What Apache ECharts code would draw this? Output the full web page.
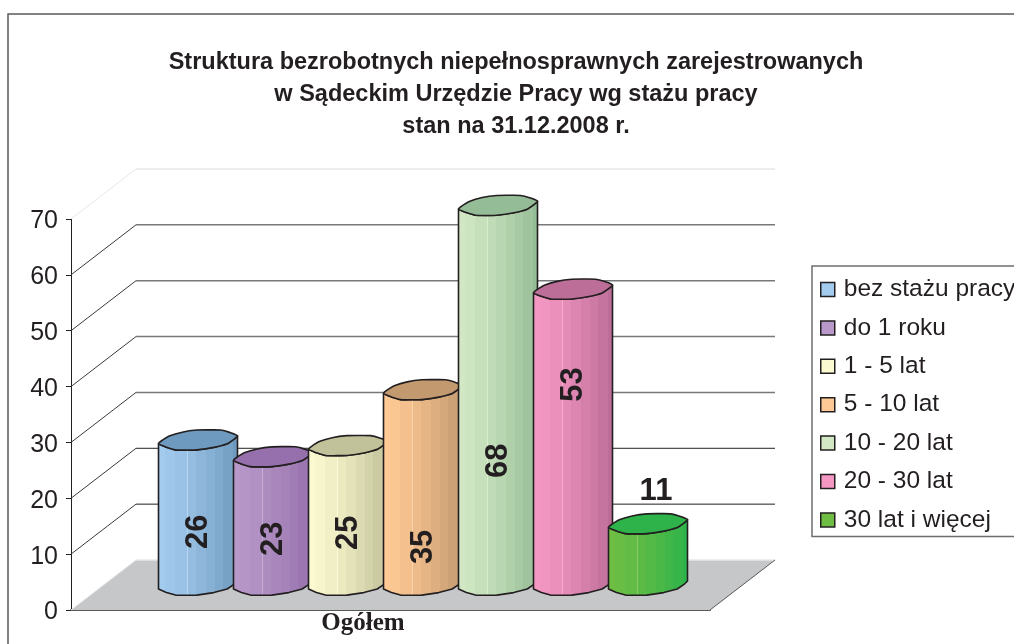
<!DOCTYPE html>
<html><head><meta charset="utf-8">
<style>html,body{margin:0;padding:0;background:#fff}#c{width:1014px;height:644px}</style>
<script src="https://cdn.jsdelivr.net/npm/echarts@6/dist/echarts.min.js"></script></head>
<body><div id="c"></div>
<script>
const titleLines = ['Struktura bezrobotnych niepełnosprawnych zarejestrowanych','w Sądeckim Urzędzie Pracy wg stażu pracy','stan na 31.12.2008 r.'];
const categories = ['Ogółem'];
const seriesNames = ['bez stażu pracy','do 1 roku','1 - 5 lat','5 - 10 lat','10 - 20 lat','20 - 30 lat','30 lat i więcej'];
const seriesValues = [26,23,25,35,68,53,11];
const yTicks = [0,10,20,30,40,50,60,70];

// styles and placement, kept apart from the data
const lightColors = ['#a3cbee','#b798c8','#fbf9cf','#fec995','#d2e8c4','#f497c3','#6fbe44'];
const darkColors  = ['#6f9abf','#9670ac','#c2c29a','#c39a70','#94bc96','#bc6e98','#2db34a'];
const labelHeightShare = [0.366,0.36,0.374,0.195,0.327,0.677,1.52];
const DX = 65, DY = -50, STEP = 75, R = 39.5, INK = '#231f20';
const bandFlat = [[-1,4],[-0.93,1.2],[-0.71,-4],[-0.4,-7.6],[-0.03,-9.7],[0.3,-9.9],[0.57,-9.7],[0.8,-7.4],[1,-4],
                  [0.93,-1.2],[0.74,4],[0.4,7.6],[-0.03,10.1],[-0.3,10.3],[-0.57,10.1],[-0.8,7.4]];

const hex = c => [1,3,5].map(i => parseInt(c.substr(i,2),16));
const mix = (a,b,t) => { const A=hex(a),B=hex(b); return 'rgb('+A.map((v,i)=>Math.round(v+(B[i]-v)*t)).join(',')+')'; };
function stepped(a,b){
  const edges=[0,.09,.22,.37,.47,.6,.71,.81,.93,1], stops=[];
  const h=mix(a,'#ffffff',.2);
  for(let i=0;i<edges.length-1;i++){
    const c=mix(a,b,Math.pow(i/(edges.length-2),1.25));
    const hair=(i===2||i===5);
    stops.push({offset:edges[i],color:c},{offset:edges[i+1]-(hair?.005:0),color:c});
    if(hair){stops.push({offset:edges[i+1]-.005,color:h},{offset:edges[i+1],color:h});}
  }
  return {type:'linear',x:0,y:0,x2:1,y2:0,colorStops:stops};
}

function cylinder(idx){
  return function(params, api){
    const v = api.value(1);
    const top = api.coord([0,v]), base = api.coord([0,0]);
    const cx = top[0] + DX/2 + (idx-3)*STEP, by = base[1] + DY/2, ty = top[1] + DY/2;
    const at = (p,y)=>[cx+p[0]*R, y+p[1]];
    const lower = bandFlat.slice(9).concat([bandFlat[0]]);   // right end -> front -> left end
    const body = [at(bandFlat[8],ty)].concat([at(bandFlat[8],by)], lower.map(p=>at(p,by)), [at(bandFlat[0],ty)], lower.slice().reverse().map(p=>at(p,ty)));
    const h = base[1]-top[1];
    const ly = by - h*labelHeightShare[idx];
    const above = labelHeightShare[idx] > 1;
    return {type:'group',children:[
      {type:'polygon',shape:{points:body},style:{fill:stepped(lightColors[idx],darkColors[idx]),stroke:INK,lineWidth:1.6,lineJoin:'round'}},
      {type:'polygon',shape:{points:bandFlat.map(p=>at(p,ty)),smooth:0.25},style:{fill:darkColors[idx],stroke:INK,lineWidth:1.6}},
      {type:'text',x:cx+(above?8:0),y:ly,rotation:above?0:Math.PI/2,
       style:{text:String(v),fill:INK,font:'bold 31px "Liberation Sans"',align:'center',verticalAlign:'middle'}}
    ]};
  };
}

const floorSeries = {
  type:'custom',name:'floor',silent:true,clip:false,z:1,data:[[0,0]],
  renderItem(params,api){
    const s=params.coordSys, y=api.coord([0,0])[1], l=s.x, r=s.x+s.width;
    return {type:'group',children:[
      {type:'polygon',shape:{points:[[l,y],[l+DX,y+DY],[r+DX,y+DY],[r,y]]},style:{fill:'#c6c7c9',stroke:null}},
      {type:'line',shape:{x1:l+DX,y1:y+DY,x2:r+DX,y2:y+DY},style:{stroke:'#e6e7e8',lineWidth:1.5}},
      {type:'line',shape:{x1:r,y1:y,x2:r+DX,y2:y+DY},style:{stroke:'#58595b',lineWidth:1}},
      {type:'line',shape:{x1:l,y1:y,x2:l+DX,y2:y+DY},style:{stroke:'#e6e7e8',lineWidth:1}}
    ]};
  }
};
const wallSeries = {
  type:'custom',name:'wall',silent:true,clip:false,z:1,data:yTicks.filter(t=>t>0).map(t=>[0,t]),
  renderItem(params,api){
    const s=params.coordSys, v=api.value(1), y=api.coord([0,v])[1], l=s.x, r=s.x+s.width;
    const top=v===70, grey=v>=30;
    const back=top?'#e6e7e8':(grey?'#77787b':'#231f20');
    const side=top?'#e6e7e8':'#3a3a3c';
    return {type:'group',children:[
      {type:'line',shape:{x1:l,y1:y,x2:l+DX,y2:y+DY},style:{stroke:side,lineWidth:1}},
      {type:'line',shape:{x1:l+DX,y1:y+DY,x2:r+DX,y2:y+DY},style:{stroke:back,lineWidth:grey?1.5:1}}
    ]};
  }
};
const cylinderSeries = seriesNames.map((n,i)=>({
  type:'custom',name:n,clip:false,z:3+i,silent:true,
  itemStyle:{color:lightColors[i]},
  data:[[0,seriesValues[i]]],
  renderItem:cylinder(i)
}));

const chart = echarts.init(document.getElementById('c'),null,{renderer:'canvas'});
chart.setOption({
  animation:false,
  backgroundColor:'#ffffff',
  title:{text:titleLines.join('\n'),left:511,top:42,textAlign:'center',
    textStyle:{fontFamily:'Liberation Sans',fontWeight:'bold',fontSize:23.5,lineHeight:32,color:INK}},
  grid:{left:71,top:219,width:639,height:391,containLabel:false},
  xAxis:{type:'category',data:categories,
    axisLine:{lineStyle:{color:'#58595b',width:2}},axisTick:{show:false},
    axisLabel:{fontFamily:'Liberation Serif',fontWeight:'bold',fontSize:25,color:INK,margin:1,padding:[0,55,0,0]}},
  yAxis:{type:'value',min:0,max:70,interval:10,
    axisLine:{show:true,lineStyle:{color:INK,width:1}},
    axisTick:{show:true,length:5,lineStyle:{color:INK,width:1}},
    splitLine:{show:false},
    axisLabel:{margin:13,formatter:'{n|{value}}',
      rich:{n:{fontFamily:'Liberation Sans',fontSize:25,color:INK,padding:[5,0,0,0]}}}},
  legend:{orient:'vertical',left:812,top:266,data:seriesNames,icon:'rect',
    itemWidth:14,itemHeight:14,itemGap:13.4,padding:[11,20,4,8],
    borderColor:'#6d6e71',borderWidth:1.5,backgroundColor:'#fff',selectedMode:false,
    itemStyle:{borderColor:INK,borderWidth:1.5},
    textStyle:{fontFamily:'Liberation Sans',fontSize:24.5,color:INK,padding:[0,0,0,4]}},
  graphic:[{type:'rect',shape:{x:8,y:14,width:1100,height:720},style:{fill:'none',stroke:'#58595b',lineWidth:1.5},silent:true,z:100}],
  series:[floorSeries,wallSeries].concat(cylinderSeries)
});
</script></body></html>
